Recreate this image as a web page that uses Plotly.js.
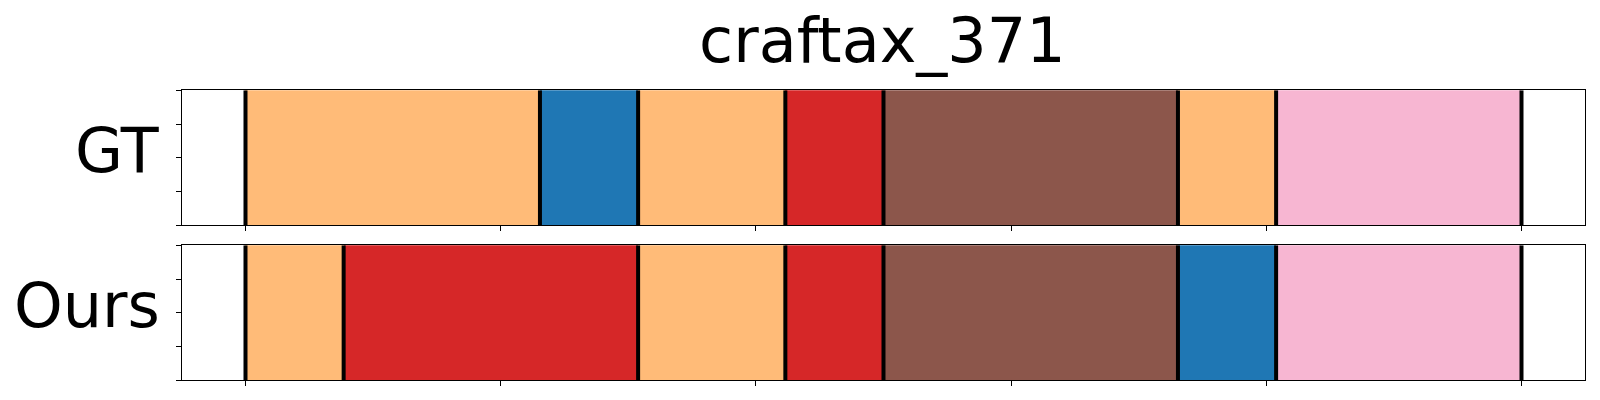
<!DOCTYPE html>
<html>
<head>
<meta charset="utf-8">
<script src="https://cdn.plot.ly/plotly-3.0.1.min.js"></script>
<style>html,body{margin:0;padding:0;background:#fff;}#chart{width:1600px;height:400px;}</style>
</head>
<body>
<div id="chart"></div>
<script>
// ---- data ----
const titleText = 'craftax_371';
const rowLabels = ['GT', 'Ours'];
// segment lengths (time units) and segment class ids (tab20 index)
const gtLengths = [6, 2, 3, 2, 6, 2, 5];
const gtClasses = [3, 0, 3, 6, 10, 3, 13];
const oursLengths = [2, 6, 3, 2, 6, 2, 5];
const oursClasses = [3, 6, 3, 6, 10, 0, 13];
const nTicks = 6;

// ---- style ----
const tab20 = ['#1f77b4','#aec7e8','#ff7f0e','#ffbb78','#2ca02c','#98df8a','#d62728','#ff9896',
  '#9467bd','#c5b0d5','#8c564b','#c49c94','#e377c2','#f7b6d2','#7f7f7f','#c7c7c7',
  '#bcbd22','#dbdb8d','#17becf','#9edae5'];
const font = 'DejaVu Sans, sans-serif';

function cumStarts(lengths){ const s=[]; let acc=0; for(const l of lengths){ s.push(acc); acc+=l; } return s; }
function boundaries(lengths){ const b=[0]; let acc=0; for(const l of lengths){ acc+=l; b.push(acc); } return b; }

const rows = [
  {lengths: gtLengths, classes: gtClasses, xa: 'x', ya: 'y'},
  {lengths: oursLengths, classes: oursClasses, xa: 'x2', ya: 'y2'}
];

const traces = [];
rows.forEach(r => {
  traces.push({
    type: 'bar', orientation: 'h',
    x: r.lengths, base: cumStarts(r.lengths),
    y: r.lengths.map(() => 0.5), width: r.lengths.map(() => 1),
    marker: {color: r.classes.map(c => tab20[c]), line: {width: 0}},
    xaxis: r.xa, yaxis: r.ya, showlegend: false, hoverinfo: 'skip'
  });
  const bx = [], by = [];
  boundaries(r.lengths).forEach(b => { bx.push(b, b, null); by.push(0, 1, null); });
  traces.push({
    type: 'scatter', mode: 'lines', x: bx, y: by,
    line: {color: '#000', width: 4},
    xaxis: r.xa, yaxis: r.ya, showlegend: false, hoverinfo: 'skip'
  });
});

const total = gtLengths.reduce((a,b)=>a+b, 0);
const step = total / (nTicks - 1);
const tickvals = Array.from({length: nTicks}, (_, i) => i * step);
const xr = [-0.05 * total, 1.05 * total];

const xBase = {
  range: xr, domain: [0.11356, 0.99081], tickmode: 'array', tickvals: tickvals,
  showticklabels: false, ticks: 'outside', ticklen: 5, tickwidth: 1, tickcolor: '#000',
  showgrid: false, zeroline: false, showline: true, mirror: true, linecolor: '#000', linewidth: 1
};
const yBase = {
  range: [0, 1], tickmode: 'array', tickvals: [0, 0.25, 0.5, 0.75, 1],
  showticklabels: false, ticks: 'outside', ticklen: 5, tickwidth: 1, tickcolor: '#000',
  showgrid: false, zeroline: false, showline: true, mirror: true, linecolor: '#000', linewidth: 1
};

const layout = {
  width: 1600, height: 400,
  margin: {l: 0, r: 0, t: 0, b: 0},
  paper_bgcolor: '#fff', plot_bgcolor: '#fff',
  barmode: 'overlay', bargap: 0,
  font: {family: font, color: '#000'},
  title: {text: titleText, font: {family: font, size: 62, color: '#000'},
          x: 0.5515, xanchor: 'center', xref: 'paper', y: 0.9, yanchor: 'middle', yref: 'container'},
  xaxis: Object.assign({}, xBase, {anchor: 'y'}),
  yaxis: Object.assign({}, yBase, {domain: [0.43675, 0.77425], anchor: 'x'}),
  xaxis2: Object.assign({}, xBase, {anchor: 'y2'}),
  yaxis2: Object.assign({}, yBase, {domain: [0.04925, 0.38675], anchor: 'x2'}),
  annotations: [
    {text: rowLabels[0], xref: 'paper', yref: 'paper', x: 0.1012, y: 0.6237, xanchor: 'right', yanchor: 'middle',
     showarrow: false, font: {family: font, size: 62, color: '#000'}},
    {text: rowLabels[1], xref: 'paper', yref: 'paper', x: 0.1012, y: 0.2362, xanchor: 'right', yanchor: 'middle',
     showarrow: false, font: {family: font, size: 62, color: '#000'}}
  ]
};

Plotly.newPlot('chart', traces, layout, {staticPlot: true, displayModeBar: false});
</script>
</body>
</html>
